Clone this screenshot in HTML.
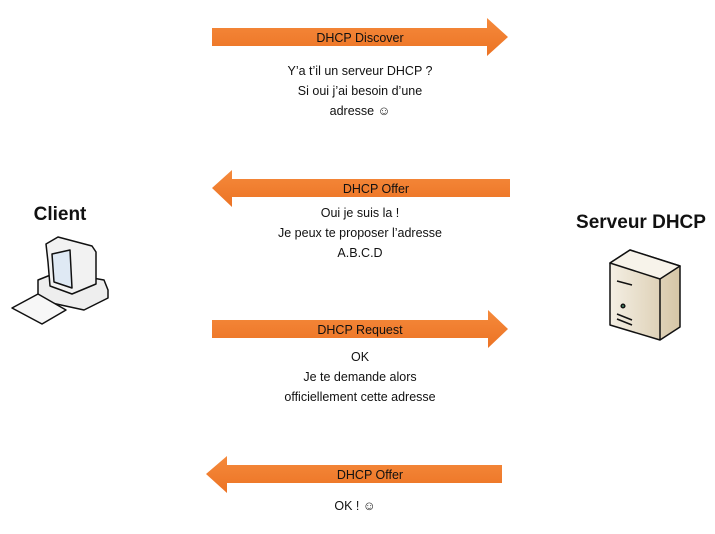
<!DOCTYPE html>
<html><head><meta charset="utf-8"><style>
body{margin:0;background:#fff;}
svg{display:block}
text{font-family:"Liberation Sans",sans-serif;}
</style></head><body>
<svg width="715" height="534" viewBox="0 0 715 534" xmlns="http://www.w3.org/2000/svg">
<defs>
<linearGradient id="og" x1="0" y1="0" x2="0" y2="1">
<stop offset="0" stop-color="#f58a3c"/><stop offset="1" stop-color="#ec7324"/></linearGradient>
<linearGradient id="sg" x1="0" y1="0" x2="1" y2="0">
<stop offset="0" stop-color="#f4efe4"/><stop offset="1" stop-color="#d6c6a6"/></linearGradient>
</defs>
<g fill="url(#og)">
<polygon points="212,28 487,28 487,18 508,37 487,56 487,46 212,46"/>
<polygon points="510,179 232,179 232,170 212,188 232,207 232,197 510,197"/>
<polygon points="212,320 488,320 488,310 508,329 488,348 488,338 212,338"/>
<polygon points="502,465 227,465 227,456 206,474 227,493 227,483 502,483"/>
</g>
<g font-size="12.5" fill="#111" text-anchor="middle">
<text x="360" y="42">DHCP Discover</text>
<text x="360" y="75">Y’a t’il un serveur DHCP ?</text>
<text x="360" y="95">Si oui j’ai besoin d’une</text>
<text x="360" y="115">adresse ☺</text>
<text x="376" y="193">DHCP Offer</text>
<text x="360" y="217">Oui je suis la !</text>
<text x="360" y="237">Je peux te proposer l’adresse</text>
<text x="360" y="257">A.B.C.D</text>
<text x="360" y="334">DHCP Request</text>
<text x="360" y="361">OK</text>
<text x="360" y="381">Je te demande alors</text>
<text x="360" y="401">officiellement cette adresse</text>
<text x="370" y="479">DHCP Offer</text>
<text x="355" y="510">OK ! ☺</text>
</g>
<g font-size="19" font-weight="bold" fill="#111" text-anchor="middle">
<text x="60" y="220">Client</text>
<text x="641" y="228">Serveur DHCP</text>
</g>
<!-- client computer -->
<g stroke="#111" stroke-width="1.5" stroke-linejoin="round">
<polygon points="38,280 58,272 104,280 108,290 108,298 84,310 38,300" fill="#eee"/>
<polygon points="46,244 58,237 92,246 96,252 96,284 72,294 50,286 48,262" fill="#f2f2f2"/>
<polygon points="52,254 70,250 72,288 54,282" fill="#dfe9f4"/>
<polygon points="12,308 38,294 66,310 42,324" fill="#f7f7f7"/>
</g>
<!-- server -->
<g stroke="#111" stroke-width="1.5" stroke-linejoin="round">
<polygon points="610,263 630,250 680,266 680,327 660,340 610,325" fill="url(#sg)"/>
<polygon points="610,263 630,250 680,266 660,279" fill="#f7f3ea"/>
<line x1="660" y1="279" x2="660" y2="340"/>
<line x1="617" y1="281" x2="632" y2="285" />
<line x1="617" y1="314" x2="632" y2="320"/>
<line x1="617" y1="319" x2="632" y2="325"/>
<circle cx="623" cy="306" r="1.8" fill="#486"/>
</g>
</svg>
</body></html>
